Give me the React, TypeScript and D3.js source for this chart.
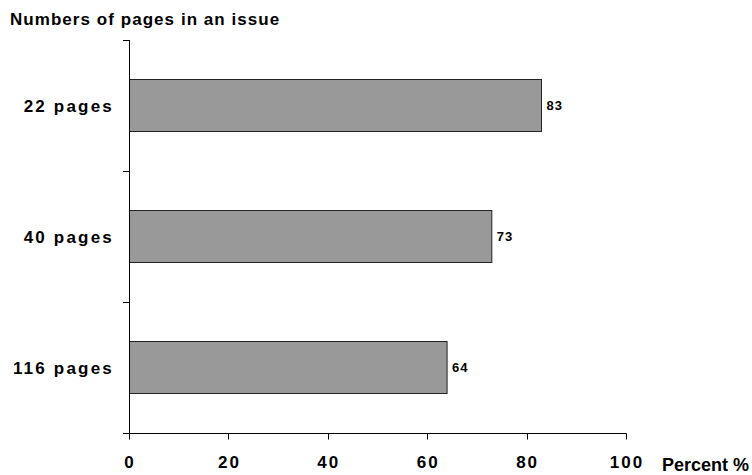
import React from "react";
import * as d3 from "d3";

const categories = ["22 pages", "40 pages", "116 pages"];
const percents = [83, 73, 64];
const xTicks = [0, 20, 40, 60, 80, 100];
const title = "Numbers of pages in an issue";
const xTitle = "Percent %";

const W = 752;
const H = 475;
const FONT = "'Liberation Sans', Arial, sans-serif";

export default function App() {
  const x = d3.scaleLinear().domain([0, 100]).range([129, 626]);
  const y = d3
    .scaleBand<string>()
    .domain(categories)
    .range([40, 433])
    .paddingInner(0.6)
    .paddingOuter(0.3);

  const x0 = Math.round(x(0)) + 0.5;
  const yBottom = 433.5;
  const bandTicks = [40, ...categories.map((c) => (y(c) as number) + y.bandwidth() + y.step() * 0.3)];

  return (
    <svg
      width={W}
      height={H}
      style={{ position: "absolute", left: 0, top: 0, background: "#fff" }}
      fontFamily={FONT}
    >
      <text x={10} y={25} fontSize={17} fontWeight="bold" letterSpacing={1.05} fill="#000">
        {title}
      </text>

      {categories.map((c, i) => {
        const yy = y(c) as number;
        const cy = yy + y.bandwidth() / 2;
        return (
          <g key={c}>
            <rect
              x={x0}
              y={Math.round(yy) + 0.5}
              width={x(percents[i]) - x0}
              height={Math.round(y.bandwidth())}
              fill="#999999"
              stroke="#222"
              strokeWidth={1}
            />
            <text
              x={x(percents[i]) + 5}
              y={cy + 4.5}
              fontSize={13}
              fontWeight="bold"
              letterSpacing={1}
              fill="#000"
            >
              {percents[i]}
            </text>
            <text
              x={114}
              y={cy + 6}
              textAnchor="end"
              fontSize={17}
              fontWeight="bold"
              letterSpacing={2.2}
              fill="#000"
            >
              {c}
            </text>
          </g>
        );
      })}

      {/* y axis */}
      <line x1={x0} x2={x0} y1={40} y2={yBottom} stroke="#000" strokeWidth={1} />
      {bandTicks.slice(0, 3).map((t, i) => (
        <line key={i} x1={123} x2={x0} y1={Math.round(t) + 0.5} y2={Math.round(t) + 0.5} stroke="#000" strokeWidth={1} />
      ))}

      {/* x axis */}
      <line x1={123} x2={Math.round(x(100)) + 0.5} y1={yBottom} y2={yBottom} stroke="#000" strokeWidth={1} />
      {xTicks.map((t) => (
        <g key={t}>
          <line
            x1={Math.round(x(t)) + 0.5}
            x2={Math.round(x(t)) + 0.5}
            y1={yBottom}
            y2={yBottom + 6}
            stroke="#000"
            strokeWidth={1}
          />
          <text
            x={x(t) + 1}
            y={468}
            textAnchor="middle"
            fontSize={17}
            fontWeight="bold"
            letterSpacing={2}
            fill="#000"
          >
            {t}
          </text>
        </g>
      ))}
      <text x={662} y={471} fontSize={18} fontWeight="bold" fill="#000">
        {xTitle}
      </text>
    </svg>
  );
}
